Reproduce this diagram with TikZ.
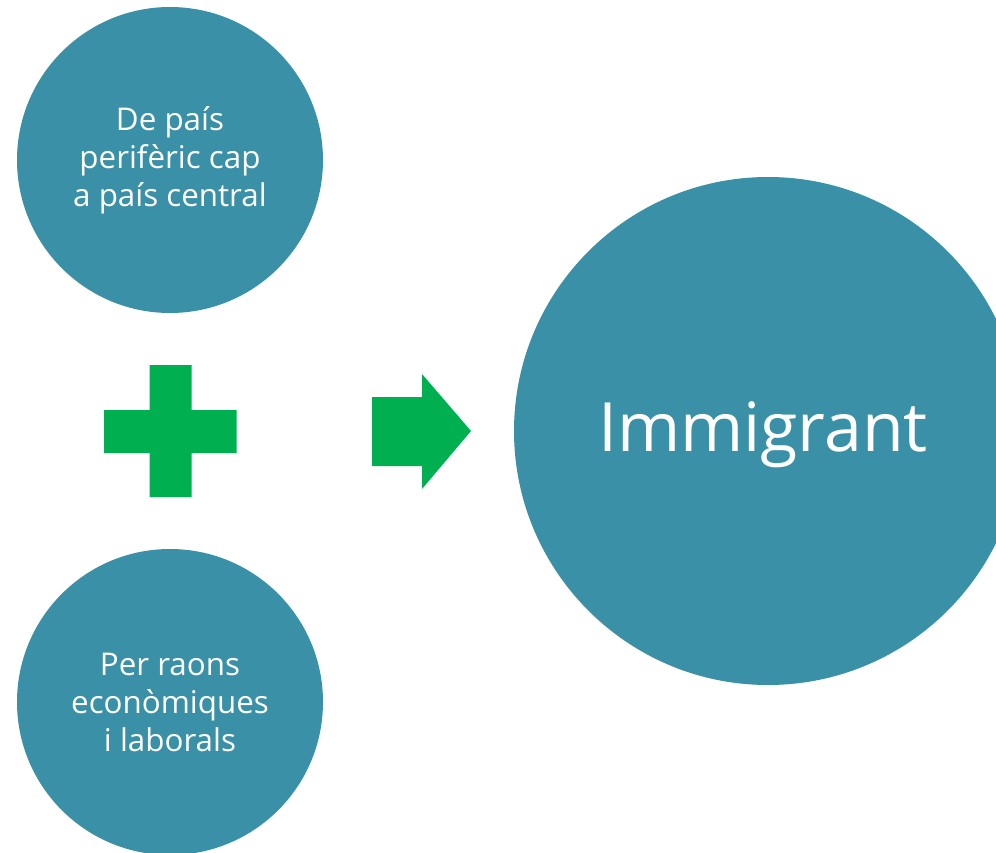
\documentclass[tikz,border=0pt]{standalone}
\usepackage{fontspec}
\setmainfont{Open Sans}
\definecolor{teal1}{HTML}{3A91A7}
\definecolor{green1}{HTML}{00B050}
\begin{document}
\begin{tikzpicture}[x=0.75pt,y=-0.75pt,
  bubble/.style={circle,fill=teal1,draw=none,inner sep=0pt,text=white,align=center},
  small/.style={bubble,minimum size=229.5pt,font=\fontsize{23.5}{28.5}\selectfont},
  big/.style={bubble,minimum size=381pt},
  bigtext/.style={text=white,inner sep=0pt,font=\fontsize{51}{60}\selectfont},
  shapefill/.style={fill=green1,draw=none}]
\useasboundingbox (0,0) rectangle (996,853);
\clip (0,0) rectangle (996,853);
\node[small] (top) at (170,160) {De país\\perifèric cap\\a país central};
\node[small] (bottom) at (170,702) {Per raons\\econòmiques\\i laborals};
\node[big] (imm) at (768,431) {};
\node[bigtext] (immtext) at ([shift={(-5,4)}]imm.center) {Immigrant};
% plus sign
\fill[shapefill] (149.5,365) -- (191.5,365) -- (191.5,410) -- (236.5,410) -- (236.5,453)
  -- (191.5,453) -- (191.5,497) -- (149.5,497) -- (149.5,453) -- (104,453) -- (104,410)
  -- (149.5,410) -- cycle;
% arrow
\fill[shapefill] (372,397) -- (422,397) -- (422,374) -- (471,431) -- (422,489)
  -- (422,466) -- (372,466) -- cycle;
\end{tikzpicture}
\end{document}
